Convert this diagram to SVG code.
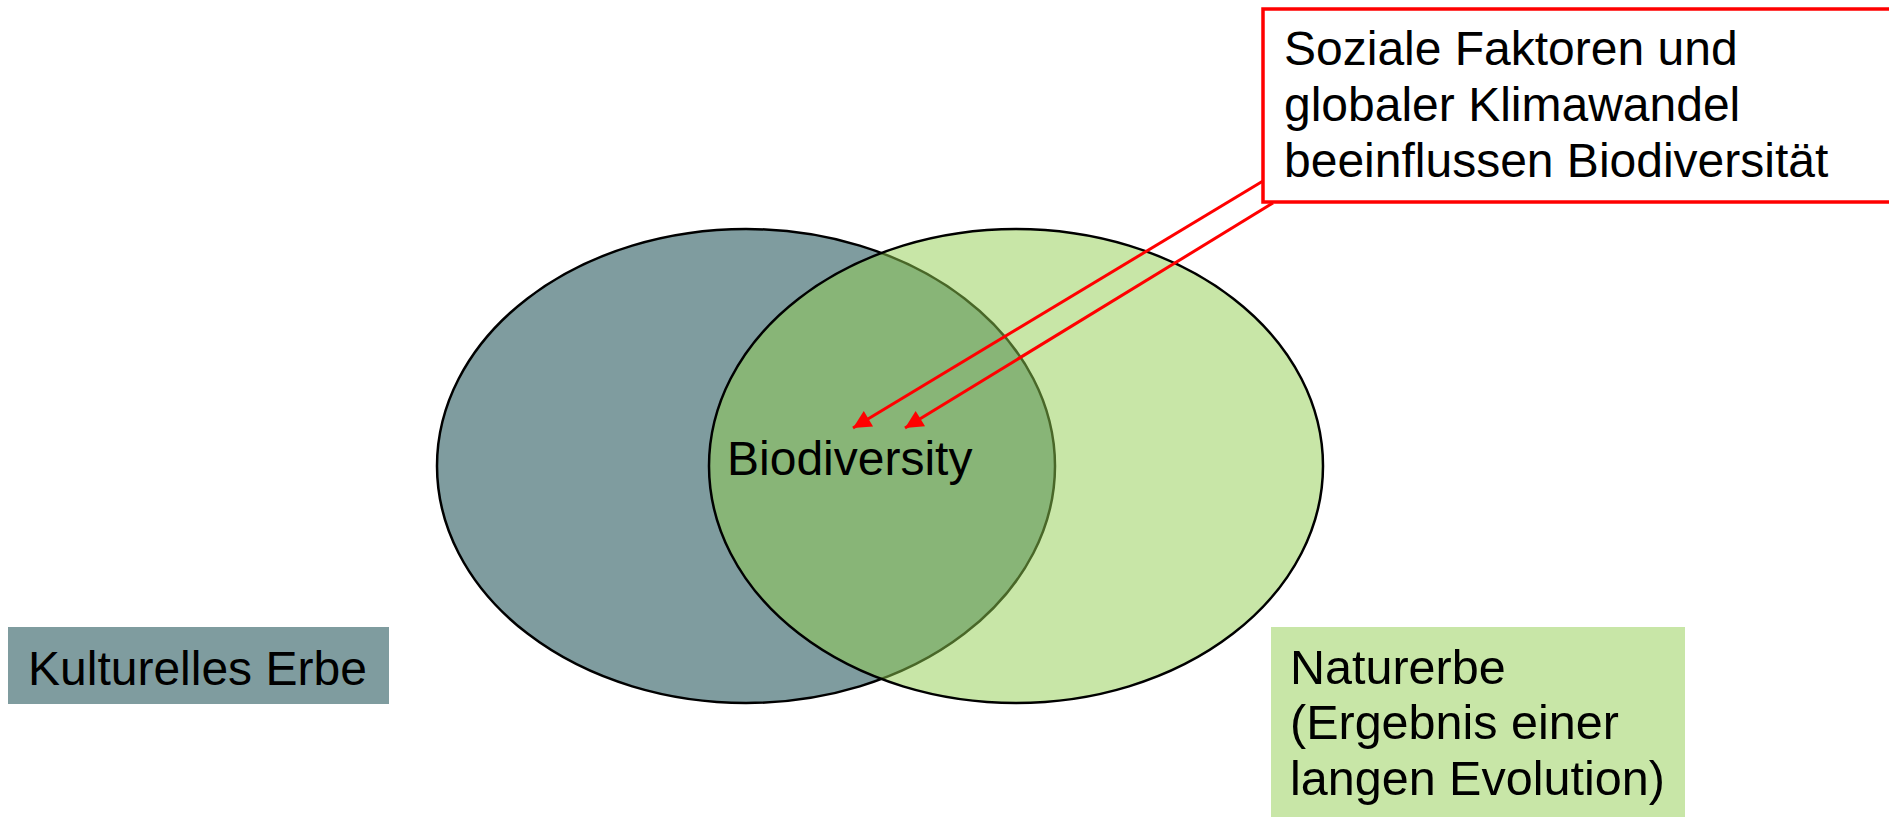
<svg xmlns="http://www.w3.org/2000/svg" width="1889" height="817" viewBox="0 0 1889 817">
<style>
text{font-family:"Liberation Sans",Arial,sans-serif;font-size:48px;fill:#000}
.ell{stroke:#000;stroke-width:2.5}
.red{stroke:#ff0000;stroke-width:3;fill:none}
</style>
<defs>
<marker id="ah" viewBox="0 0 10 10" refX="10" refY="5" markerWidth="7" markerHeight="6" markerUnits="strokeWidth" orient="auto">
<path d="M0,0 L10,5 L0,10 z" fill="#ff0000"/>
</marker>
</defs>
<rect width="1889" height="817" fill="#fff"/>
<g id="kultur-ellipse"><ellipse class="ell" cx="746" cy="466" rx="309" ry="237" fill="#7f9c9f"/></g>
<g id="natur-ellipse"><ellipse class="ell" cx="1016" cy="466" rx="307" ry="237" fill="rgb(145,205,79)" fill-opacity="0.5"/></g>
<g id="biodiversity"><text x="727" y="475">Biodiversity</text></g>
<g id="kulturelles-erbe">
<rect x="8" y="627" width="381" height="77" fill="#7f9c9f"/>
<text x="28" y="685">Kulturelles Erbe</text>
</g>
<g id="naturerbe">
<rect x="1271" y="627" width="414" height="190" fill="#c8e6a7"/>
<text x="1290" y="684" style="font-size:48.5px">Naturerbe</text>
<text x="1290" y="739" style="font-size:48.5px">(Ergebnis einer</text>
<text x="1290" y="795" style="font-size:48.5px">langen Evolution)</text>
</g>
<g id="callout">
<rect x="1263" y="9" width="640" height="193" fill="#fff" stroke="#ff0000" stroke-width="3.5"/>
<text x="1284" y="65">Soziale Faktoren und</text>
<text x="1284" y="121">globaler Klimawandel</text>
<text x="1284" y="177">beeinflussen Biodiversität</text>
</g>
<g id="connectors">
<line class="red" x1="1263" y1="181" x2="853" y2="428" marker-end="url(#ah)"/>
<line class="red" x1="1273" y1="203" x2="905" y2="428" marker-end="url(#ah)"/>
</g>
</svg>
